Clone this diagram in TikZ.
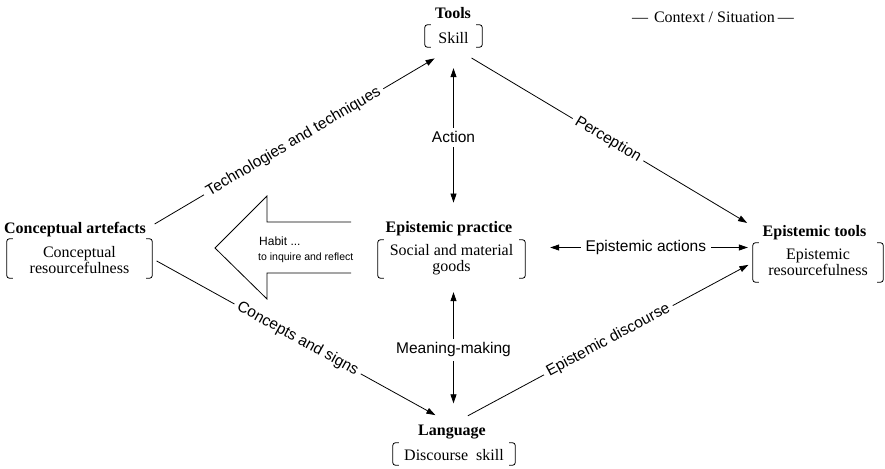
\documentclass[tikz,border=0pt]{standalone}
\usepackage{fontspec}
\setmainfont{Liberation Serif}
\newfontfamily\labelfont{Liberation Sans}
\usetikzlibrary{arrows.meta,calc}

% square brackets drawn round a content node
\newcommand{\bracketsaround}[1]{%
  \draw[brk] ([xshift=6pt]#1.north west) -- (#1.north west) -- (#1.south west) -- ([xshift=6pt]#1.south west);
  \draw[brk] ([xshift=-6pt]#1.north east) -- (#1.north east) -- (#1.south east) -- ([xshift=-6pt]#1.south east);}

\tikzset{
  title/.style={font=\fontsize{16}{16}\selectfont\bfseries, inner sep=0pt, anchor=base},
  bracketed/.style={font=\fontsize{16}{15.5}\selectfont, inner sep=0pt, align=center, text depth=0pt},
  brk/.style={line width=0.8pt, rounded corners=2.5pt},
  conn/.style={line width=0.8pt, -{Triangle[length=9pt,width=6pt]}},
  biconn/.style={line width=0.8pt, {Triangle[length=9pt,width=6pt]}-{Triangle[length=9pt,width=6pt]}},
  plain/.style={line width=0.8pt},
  lab/.style={font=\labelfont\fontsize{15.5}{15.5}\selectfont, fill=white, inner sep=4pt},
  smalllab/.style={font=\labelfont, anchor=base west, inner sep=0pt},
}

\begin{document}
\begin{tikzpicture}[x=1pt,y=-1pt]
\useasboundingbox (0,0) rectangle (885,468);

% ---- titles and bracketed contents ----
\node[title] (tools) at (453,18.5) {Tools};
\node[bracketed, minimum width=57pt, minimum height=22pt, text height=14.6pt] (skill) at (453.5,36) {Skill};

\node[title] (ca) at (75,233) {Conceptual artefacts};
\node[bracketed, minimum width=145pt, minimum height=39pt, text height=29pt] (cr) at (79.5,258.5) {Conceptual\\resourcefulness};

\node[title] (ep) at (449,232.7) {Epistemic practice};
\node[bracketed, minimum width=147pt, minimum height=38pt, text height=24pt] (epb) at (451.5,259) {Social and material\\goods};

\node[title] (et) at (814.5,236) {Epistemic tools};
\node[bracketed, minimum width=130pt, minimum height=39pt, text height=25pt] (etb) at (818,262.5) {Epistemic\\resourcefulness};

\node[title] (lang) at (452,435) {Language};
\node[bracketed, minimum width=122pt, minimum height=22pt, text height=12pt] (langb) at (454,454) {Discourse\enspace skill};

\bracketsaround{skill}
\bracketsaround{cr}
\bracketsaround{epb}
\bracketsaround{etb}
\bracketsaround{langb}

\node[font=\fontsize{16}{16}\selectfont, anchor=base, inner sep=0pt] (ctx) at (713,22.7)
  {---\hspace{6pt}Context / Situation\hspace{3pt}---};

% ---- habit arrow ----
\draw[plain, line join=miter] (351,222) -- (267,222) -- (267,196) -- (215,248)
  -- (267,299) -- (267,273) -- (351,273);
\node[smalllab, font=\labelfont\fontsize{12}{12}\selectfont] (habit) at (259,245) {Habit ...};
\node[smalllab, font=\labelfont\fontsize{10.5}{10.5}\selectfont] (inquire) at (258,260) {to inquire and reflect};

% ---- connectors ----
\draw[conn, shorten <=10pt, shorten >=22pt] (ca.east)
  -- node[lab, sloped, pos=0.48] (ltech) {Technologies and techniques} (skill.south);
\draw[conn, shorten <=21pt, shorten >=18pt] (skill.south)
  -- node[lab, sloped, pos=0.5] (lperc) {Perception} (et.west);
\draw[conn, shorten <=5pt, shorten >=19pt] (cr.east)
  -- node[lab, sloped, pos=0.485] (lconc) {Concepts and signs} (lang.north);
\draw[conn, shorten <=18pt, shorten >=5pt] (lang.north)
  -- node[lab, sloped, pos=0.52] (ldisc) {Epistemic discourse} (etb.west);

\draw[biconn, shorten <=25pt, shorten >=5pt] ([yshift=11.5pt]epb.east)
  -- node[lab, pos=0.53, inner sep=5pt] (lact) {Epistemic actions} ([yshift=15pt]etb.west);
\draw[biconn, shorten <=21pt, shorten >=18.8pt] (skill.south)
  -- node[lab, pos=0.518] (laction) {Action} (skill.south |- ep.north);
\draw[biconn, shorten <=14pt, shorten >=21pt] (skill.south |- epb.south)
  -- node[lab, pos=0.49] (lmean) {Meaning-making} (skill.south |- lang.north);

\end{tikzpicture}
\end{document}
